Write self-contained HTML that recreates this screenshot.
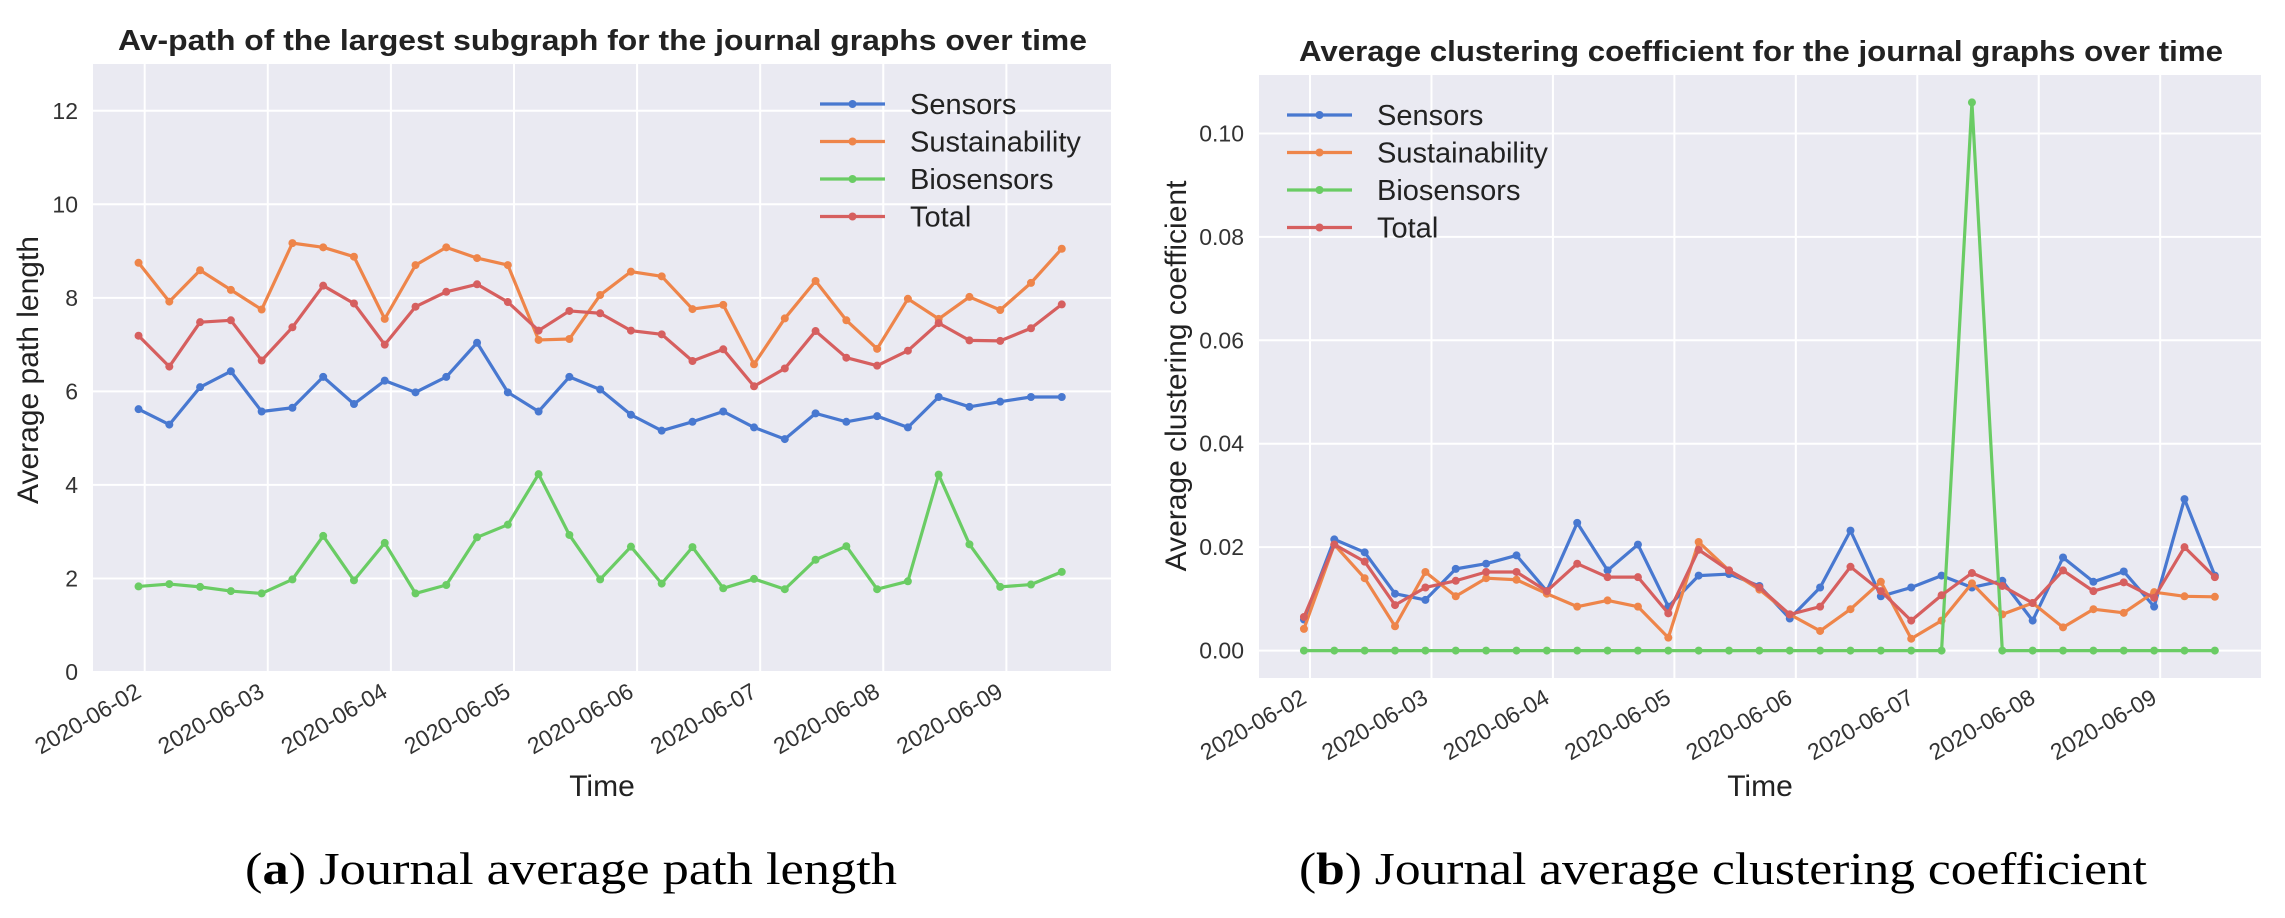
<!DOCTYPE html>
<html><head><meta charset="utf-8"><style>
html,body{margin:0;padding:0;background:#fff;}
svg{display:block;}
</style></head><body>
<svg id="fig" width="2285" height="918" viewBox="0 0 2285 918" xmlns="http://www.w3.org/2000/svg"></svg>
<script>
const NS="http://www.w3.org/2000/svg";
const dateLabels=["2020-06-02","2020-06-03","2020-06-04","2020-06-05","2020-06-06","2020-06-07","2020-06-08","2020-06-09"];
const seriesNames=["Sensors","Sustainability","Biosensors","Total"];
const seriesColors=["#4878D0","#EE854A","#6ACC64","#D65F5F"];
const startDay=-0.05;
const stepDay=0.25;
const pathTicks=[0,2,4,6,8,10,12];
const pathTickLabels=["0","2","4","6","8","10","12"];
const pathSensors=[5.62,5.29,6.09,6.43,5.57,5.65,6.31,5.73,6.23,5.98,6.31,7.04,5.98,5.57,6.31,6.04,5.50,5.16,5.35,5.57,5.23,4.98,5.53,5.35,5.47,5.23,5.88,5.67,5.78,5.88,5.88];
const pathSustain=[8.75,7.92,8.59,8.17,7.75,9.17,9.08,8.88,7.55,8.70,9.08,8.85,8.70,7.10,7.12,8.06,8.56,8.46,7.76,7.85,6.58,7.56,8.36,7.52,6.91,7.98,7.55,8.02,7.74,8.32,9.05];
const pathBio=[1.83,1.88,1.82,1.73,1.68,1.98,2.91,1.96,2.76,1.68,1.86,2.88,3.15,4.23,2.93,1.98,2.68,1.89,2.67,1.79,1.99,1.77,2.40,2.69,1.77,1.94,4.22,2.73,1.82,1.87,2.14];
const pathTotal=[7.19,6.53,7.48,7.52,6.66,7.37,8.26,7.88,7.00,7.81,8.13,8.29,7.91,7.30,7.72,7.67,7.30,7.22,6.65,6.90,6.11,6.49,7.29,6.72,6.55,6.87,7.46,7.09,7.08,7.35,7.86];
const clusTicks=[0,0.02,0.04,0.06,0.08,0.10];
const clusTickLabels=["0.00","0.02","0.04","0.06","0.08","0.10"];
const clusSensors=[0.006,0.0215,0.019,0.011,0.0098,0.0158,0.0168,0.0184,0.0115,0.0247,0.0155,0.0205,0.0085,0.0145,0.0148,0.0125,0.0062,0.0122,0.0232,0.0105,0.0122,0.0145,0.0122,0.0135,0.0058,0.018,0.0133,0.0153,0.0085,0.0293,0.0145];
const clusSustain=[0.0042,0.0205,0.014,0.0047,0.0152,0.0105,0.014,0.0137,0.011,0.0085,0.0097,0.0085,0.0025,0.021,0.0155,0.0118,0.007,0.0038,0.008,0.0133,0.0023,0.0058,0.013,0.007,0.0092,0.0045,0.008,0.0073,0.0113,0.0105,0.0104];
const clusBio=[0,0,0,0,0,0,0,0,0,0,0,0,0,0,0,0,0,0,0,0,0,0,0.106,0,0,0,0,0,0,0,0];
const clusTotal=[0.0065,0.0205,0.0172,0.0088,0.0122,0.0135,0.0152,0.0152,0.0115,0.0168,0.0142,0.0142,0.0072,0.0195,0.0155,0.0122,0.007,0.0085,0.0162,0.0115,0.0058,0.0107,0.015,0.0125,0.0092,0.0155,0.0115,0.0132,0.0102,0.02,0.0142];

const svg=document.getElementById('fig');
function mk(tag,attrs,parent,text){const e=document.createElementNS(NS,tag);for(const k in attrs)e.setAttribute(k,attrs[k]);if(text!==undefined)e.textContent=text;(parent||svg).appendChild(e);return e;}

function drawChart(c){
  const g=mk('g',{});
  
  
  const xs=d=>c.L+(d-c.xmin)/(c.xmax-c.xmin)*(c.R-c.L);
  const ys=v=>c.B-(v-c.ymin)/(c.ymax-c.ymin)*(c.B-c.T);
  const bg=mk('rect',{x:c.L,y:c.T,width:c.R-c.L,height:c.B-c.T,fill:'#EAEAF2'},g);
  
  
  c.yt.forEach((v,i)=>{
    const y=ys(v);
    const gl=mk('line',{x1:c.L,x2:c.R,y1:y,y2:y,stroke:'#fff','stroke-width':2},g);
    
    
    const t=mk('text',{x:c.L-15,y:y+8,'text-anchor':'end','font-size':23,fill:'#333','font-family':'Liberation Sans, sans-serif'},g,c.ytl[i]);
    
    
  });
  dateLabels.forEach((lab,i)=>{
    const x=xs(i);
    const gl=mk('line',{x1:x,x2:x,y1:c.T,y2:c.B,stroke:'#fff','stroke-width':2},g);
    
    
    const t=mk('text',{x:0,y:0,'text-anchor':'end','font-size':23,fill:'#333','font-family':'Liberation Sans, sans-serif',transform:`translate(${x-2},${c.B+24}) rotate(-30)`},g,lab);
    
    
  });
  c.series.forEach((arr,s)=>{
    const pts=arr.map((v,i)=>[xs(startDay+i*stepDay),ys(v)]);
    const pl=mk('polyline',{points:pts.map(p=>p.join(',')).join(' '),fill:'none',stroke:seriesColors[s],'stroke-width':3.2,'stroke-linejoin':'round'},g);
    
    
    pts.forEach(p=>{
      const m=mk('circle',{cx:p[0],cy:p[1],r:4,fill:seriesColors[s]},g);
      
      
    });
  });
  seriesNames.forEach((n,s)=>{
    const y=c.legY+s*37.5;
    const lg=mk('g',{},g);
    
    
    mk('line',{x1:c.legX,x2:c.legX+65,y1:y,y2:y,stroke:seriesColors[s],'stroke-width':3.2},lg);
    mk('circle',{cx:c.legX+32.5,cy:y,r:4,fill:seriesColors[s]},lg);
    mk('text',{x:c.legX+90,y:y+10,'font-size':29,fill:'#222','font-family':'Liberation Sans, sans-serif'},lg,n);
  });
  const tt=mk('text',{x:c.titleX,y:c.titleY,'font-size':29,'font-weight':'bold',fill:'#222','font-family':'Liberation Sans, sans-serif',textLength:c.titleW,lengthAdjust:'spacingAndGlyphs'},g,c.title);
  
  
  const xt=mk('text',{x:(c.L+c.R)/2,y:796,'text-anchor':'middle','font-size':30,fill:'#222','font-family':'Liberation Sans, sans-serif'},g,'Time');
  
  
  const yt=mk('text',{x:0,y:0,'text-anchor':'middle','font-size':30,fill:'#222','font-family':'Liberation Sans, sans-serif',transform:`translate(${c.yTitleX},${c.yTitleY}) rotate(-90)`},g,c.yTitle);
  
  
  const cap=mk('text',{x:c.capX,y:884,'font-size':46,fill:'#000','font-family':'Liberation Serif, serif',textLength:c.capW,lengthAdjust:'spacingAndGlyphs'},g);
  
  
  mk('tspan',{},cap,'(');
  mk('tspan',{'font-weight':'bold'},cap,c.letter);
  mk('tspan',{},cap,') '+c.caption);
}

drawChart({id:'path',L:93,R:1111,T:64,B:672,xmin:-0.42,xmax:7.85,ymin:0,ymax:13,yt:pathTicks,ytl:pathTickLabels,
  series:[pathSensors,pathSustain,pathBio,pathTotal],legX:820,legY:104,
  title:'Av-path of the largest subgraph for the journal graphs over time',titleX:118,titleY:50,titleW:969,
  yTitle:'Average path length',yTitleX:38,yTitleY:370,capX:245,capW:652,letter:'a',caption:'Journal average path length'});
drawChart({id:'clustering',L:1259,R:2261,T:75,B:678,xmin:-0.42,xmax:7.83,ymin:-0.0053,ymax:0.1113,yt:clusTicks,ytl:clusTickLabels,
  series:[clusSensors,clusSustain,clusBio,clusTotal],legX:1287,legY:115,
  title:'Average clustering coefficient for the journal graphs over time',titleX:1299,titleY:61,titleW:924,
  yTitle:'Average clustering coefficient',yTitleX:1186,yTitleY:376,capX:1299,capW:848,letter:'b',caption:'Journal average clustering coefficient'});
</script>
</body></html>
